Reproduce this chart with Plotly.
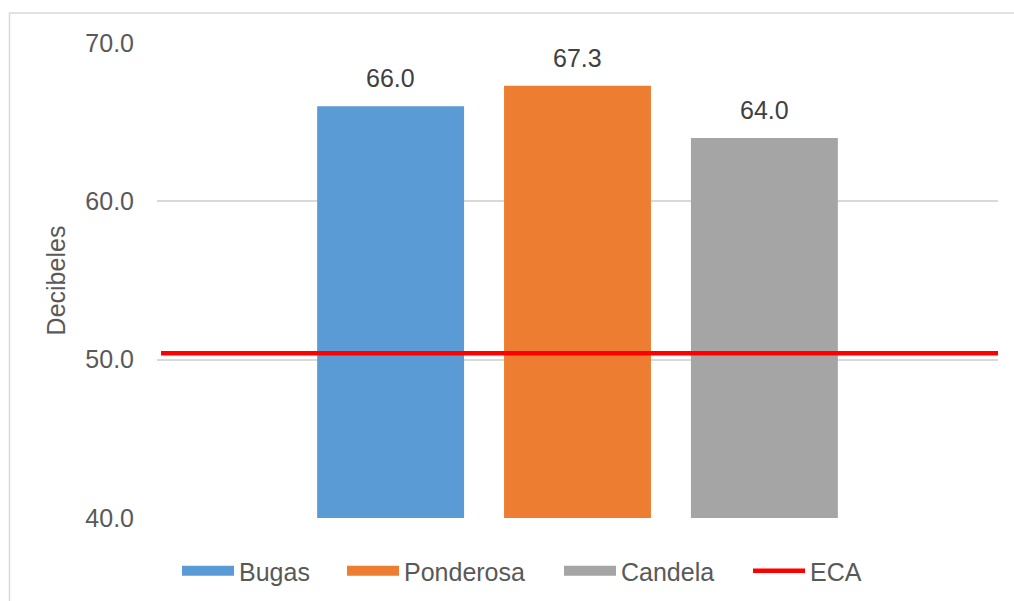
import plotly.graph_objects as go

# Noise levels per monitoring site (dB) and the environmental quality standard
sites = ["Bugas", "Ponderosa", "Candela"]
levels = [66.0, 67.3, 64.0]
site_colors = ["#5B9BD5", "#ED7D31", "#A5A5A5"]
eca_name = "ECA"
eca_value = 50.4
y_ticks = [40, 50, 60, 70]

FONT = "Arial, Liberation Sans, sans-serif"
GREY_TXT = "#595959"

W, H = 1014, 601
ML, MR, MT, MB = 157, 16, 43, 82.5
PW = W - ML - MR
PH = H - MT - MB

# Left edge (px) of each legend entry along the bottom row
legend_left = [177, 342, 559, 748]
legend_ids = ["legend", "legend2", "legend3", "legend4"]

fig = go.Figure()

# Columns, one per site
fig.add_trace(go.Bar(
    x=sites, y=levels,
    marker=dict(color=site_colors, line=dict(width=0)),
    showlegend=False, hoverinfo="x+y",
))

# Legend swatches drawn as thick lines so they read as wide rectangles
for name, col, lid in zip(sites, site_colors, legend_ids):
    fig.add_trace(go.Scatter(
        x=[None], y=[None], mode="lines", name=name,
        line=dict(color=col, width=14), legend=lid,
    ))

# Standard limit spanning the whole plot width
fig.add_trace(go.Scatter(
    x=[0, 1], y=[eca_value, eca_value], mode="lines", name=eca_name,
    line=dict(color="#FF0000", width=4.5),
    xaxis="x2", cliponaxis=False, hoverinfo="y", legend=legend_ids[3],
))

# Value labels above each column
for s, v in zip(sites, levels):
    fig.add_annotation(
        x=s, y=v, text=f"{v:.1f}", showarrow=False,
        yanchor="bottom", yshift=12,
        font=dict(family=FONT, size=25, color="#404040"),
    )

# Outer chart frame
fig.add_shape(
    type="rect", xref="paper", yref="paper",
    x0=(9.5 - ML) / PW, x1=(1030 - ML) / PW,
    y0=(MT + PH - 620) / PH, y1=(MT + PH - 13) / PH,
    line=dict(color="#D9D9D9", width=1.5), fillcolor="rgba(0,0,0,0)",
    layer="below",
)

legend_style = dict(
    orientation="h", xref="container", yref="container",
    y=(H - 571) / H, yanchor="middle", xanchor="left",
    font=dict(family=FONT, size=25, color=GREY_TXT),
    itemwidth=52, bgcolor="rgba(0,0,0,0)",
)
legends = {lid: dict(legend_style, x=px / W) for lid, px in zip(legend_ids, legend_left)}

fig.update_layout(
    width=W, height=H,
    margin=dict(l=ML, r=MR, t=MT, b=MB),
    paper_bgcolor="white", plot_bgcolor="white",
    bargap=1 - 147 / 187,
    font=dict(family=FONT, color=GREY_TXT),
    xaxis=dict(
        type="category", range=[-1.25, 3.25],
        showticklabels=False, showgrid=False, zeroline=False, showline=False,
        ticks="", fixedrange=True,
    ),
    xaxis2=dict(
        overlaying="x", range=[-0.00478, 0.9917], visible=False, fixedrange=True,
    ),
    yaxis=dict(
        range=[40, 70], tickvals=y_ticks, tickformat=".1f",
        showgrid=True, gridcolor="#D9D9D9", gridwidth=1.5,
        zeroline=False, showline=False, ticks="",
        ticklabelstandoff=22,
        tickfont=dict(family=FONT, size=25, color=GREY_TXT),
        title=dict(text="Decibeles", font=dict(family=FONT, size=25, color=GREY_TXT),
                   standoff=12),
        automargin=False, fixedrange=True,
    ),
    **legends,
)

fig.write_html("out.html")
